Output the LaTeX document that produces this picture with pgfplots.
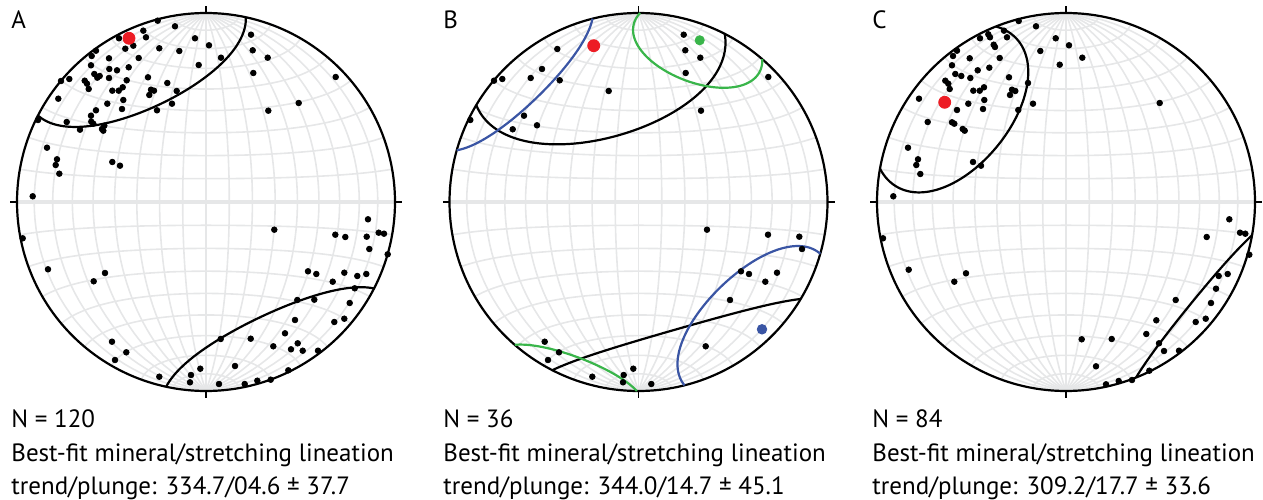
\documentclass[border=0pt]{standalone}
\usepackage{pgfplots}
\pgfplotsset{compat=1.18}
\usepackage{fontspec}
\setmainfont{PT Sans}
\definecolor{netgray}{HTML}{E6E7E8}
\definecolor{mred}{HTML}{ED1C24}
\definecolor{mgreen}{HTML}{39B54A}
\definecolor{mblue}{HTML}{3A55A4}
\def\R{189}
% equal-area (Schmidt) net, lower hemisphere, centre (#1,#2) in pixel units
\newcommand{\drawnet}[2]{%
  \pgfplotsinvokeforeach{10,20,...,170}{%
    \addplot[netgray, line width=0.8pt, domain=0:180, samples=61]
      ({#1+\R*sin(x)*cos(##1)/sqrt(1+sin(x)*sin(##1))},{#2-\R*cos(x)/sqrt(1+sin(x)*sin(##1))});
    \addplot[netgray, line width=0.8pt, domain=0:180, samples=61]
      ({#1+\R*sin(##1)*cos(x)/sqrt(1+sin(##1)*sin(x))},{#2-\R*cos(##1)/sqrt(1+sin(##1)*sin(x))});
  }%
  \addplot[netgray, line width=2pt, domain=-1:1, samples=2] ({#1+\R*x},{#2});
  \addplot[black, line width=1.1pt, domain=0:360, samples=241] ({#1+\R*cos(x)},{#2+\R*sin(x)});
  \addplot[black, line width=0.8pt, domain=0:1, samples=2] ({#1},{#2-\R-7*x});
  \addplot[black, line width=0.8pt, domain=0:1, samples=2] ({#1},{#2+\R+7*x});
  \addplot[black, line width=0.8pt, domain=0:1, samples=2] ({#1-\R-7*x},{#2});
  \addplot[black, line width=0.8pt, domain=0:1, samples=2] ({#1+\R+7*x},{#2});
}
% cone (small circle) of half-angle #5 about trend #3 / plunge #4, centre (#1,#2)
\newcommand{\cone}[6]{%
  \pgfmathsetmacro{\kk}{cos(#5)*sin(#4)/(sin(#5)*cos(#4))}%
  \pgfmathsetmacro{\tz}{acos(\kk)}%
  \pgfmathsetmacro{\tzb}{360-\tz}%
  \pgfmathsetmacro{\tzn}{-\tz}%
  \addplot[#6, line width=1.1pt, domain=\tz:\tzb, samples=150]
   ({#1+\R*(cos(#5)*cos(#4)*sin(#3)+sin(#5)*(cos(x)*sin(#4)*sin(#3)+sin(x)*cos(#3)))/sqrt(1+cos(#5)*sin(#4)-sin(#5)*cos(x)*cos(#4))},
    {#2-\R*(cos(#5)*cos(#4)*cos(#3)+sin(#5)*(cos(x)*sin(#4)*cos(#3)-sin(x)*sin(#3)))/sqrt(1+cos(#5)*sin(#4)-sin(#5)*cos(x)*cos(#4))});
  \addplot[#6, line width=1.1pt, domain=\tzn:\tz, samples=150]
   ({#1-\R*(cos(#5)*cos(#4)*sin(#3)+sin(#5)*(cos(x)*sin(#4)*sin(#3)+sin(x)*cos(#3)))/sqrt(1-cos(#5)*sin(#4)+sin(#5)*cos(x)*cos(#4))},
    {#2+\R*(cos(#5)*cos(#4)*cos(#3)+sin(#5)*(cos(x)*sin(#4)*cos(#3)-sin(x)*sin(#3)))/sqrt(1-cos(#5)*sin(#4)+sin(#5)*cos(x)*cos(#4))});
}
\tikzset{lab/.style={anchor=base west, font=\fontsize{12.5pt}{15pt}\selectfont, inner sep=0pt},
         txt/.style={anchor=base west, font=\fontsize{12.5pt}{15pt}\selectfont, inner sep=0pt}}
\begin{document}
\begin{tikzpicture}
\path[use as bounding box] (0,0) rectangle (631.5pt,249.5pt);
\begin{axis}[at={(0,0)}, anchor=south west, scale only axis,
  width=631.5pt, height=249.5pt, xmin=0, xmax=1263, ymin=0, ymax=499,
  y dir=reverse, hide axis, clip=false]
% ---------------- A ----------------
\drawnet{206}{202}
\cone{206}{202}{334.7}{4.6}{37.7}{black}
\addplot[only marks, mark=*, mark size=1.4pt, black] coordinates {
(157.7,20.7) (175,26.3) (143.3,30.7) (146,37.3) (119,38.3) (133.3,45.7) (125.3,48.7)
(195,38.3) (209,45.3) (159.3,48.3) (179.3,51) (96,50.7) (91.7,56) (138.7,58) (109,58.3)
(198.7,65) (91,65.3) (128.7,67.3) (109.3,69) (117,70.3) (94.3,74) (99.7,76) (97.3,77.7)
(109,78) (148,77.3) (69.3,79) (61,81) (84.7,80.7) (126.7,80.3) (87,83.7) (167.3,83)
(122.7,87.3) (88.7,89) (112.3,90.7) (118.7,90.7) (151,89.7) (154,90.7) (176.7,91)
(149.3,95) (58.3,98.7) (123.3,100) (107.3,103.7) (172,103.7) (96,110.3) (122,109)
(157,110.3) (91,115.7) (38,120) (66.7,122) (91.3,121.7) (93.3,123.7) (104.3,125.7)
(102,129) (80,129.7) (103.3,130.7) (47,147.7) (57,159.3) (55.7,165) (59.3,173.7)
(112.3,162) (120,165.7) (32.7,196.3)
(251,34.7) (252.7,50.3) (267.7,57.7) (221,57.7) (253.3,73) (335.7,77) (298.7,103) (268.3,110.7)
(22.7,238.3) (48,269.3) (105,273) (93.7,281.3) (112,341.7) (126.3,352.3) (115,360)
(159.3,376.7) (200.3,368.7) (191,375) (190,382.3)
(368,219.3) (274.3,229.7) (335.3,234.7) (345.3,237) (366.7,236.7) (378.7,232.7) (384,233.7)
(369.3,249) (387.7,254.3) (308,271.3) (316.3,274) (344.3,272.7) (357.3,276) (366.3,274)
(332.7,281.7) (354.7,288.3) (297.3,300) (314.3,299.7) (349.7,303) (295,320) (334.3,322)
(344.3,318.7) (220.7,339) (250.7,338.7) (285,333.3) (297.7,343.3) (273.3,346.3) (291,349.3)
(302.7,350.7) (318,350.7) (235,366) (288.3,370.3) (270.7,379.7) (257.3,380.7) (244.7,384) (219,384)
};
\addplot[only marks, mark=*, mark size=3pt, mred] coordinates {(129,38.3)};
% ---------------- B ----------------
\drawnet{638.5}{202}
\cone{638.5}{202}{344.0}{14.7}{45.1}{black}
\cone{638.5}{202}{20.7}{9.4}{22.2}{mgreen}
\cone{638.5}{202}{135.9}{6.8}{30.7}{mblue}
\addplot[only marks, mark=*, mark size=1.4pt, black] coordinates {
(557.3,49) (542,69) (530.7,78) (559.7,80.3) (494,80.7) (502.3,79) (608.7,91) (524,115.7)
(537,125.3) (512.7,129.3) (470.3,120)
(683.7,34.7) (685.3,50.3) (700.3,57.7) (685.7,73) (768.3,77) (701,110.7)
(544.7,341.7) (559,352.3) (548,360) (592.3,376.7) (633.3,368.7) (623.7,375) (623,382.3)
(707,229.7) (768,234.7) (799.3,236.7) (802,249) (741,271.3) (749,274) (777,272.7)
(765.3,281.7) (730,300) (705.7,346.3) (651.3,384)
};
\addplot[only marks, mark=*, mark size=3pt, mred] coordinates {(593.7,45.7)};
\addplot[only marks, mark=*, mark size=2.3pt, mgreen] coordinates {(699.7,40.3)};
\addplot[only marks, mark=*, mark size=2.4pt, mblue] coordinates {(762,329.3)};
% ---------------- C ----------------
\drawnet{1066}{202}
\cone{1066}{202}{309.2}{17.7}{33.6}{black}
\addplot[only marks, mark=*, mark size=1.4pt, black] coordinates {
(1018.7,21) (1036,26.3) (1004,30.7) (988.3,34.3) (990,37.3) (980,38.3) (1007,37.3)
(1055.7,38.3) (1069,45.3) (993.7,44.7) (995,47) (957,50.7) (1040.3,51) (953,56)
(969.7,58.3) (999.7,58) (1059.7,64.7) (952,65.3) (989.3,67.7) (977.7,70.3) (955.3,74)
(961.3,76) (970.3,78) (1009,77.3) (945.3,80.7) (948.3,83.7) (1028,83) (949.7,89)
(984,87.3) (973.3,90.7) (979.7,90.7) (1012,89.7) (1015.3,91) (1010,95) (919,98.7)
(984.3,100) (968.3,103.7) (1033,103.7) (957,110) (983,109) (1018.3,110) (927.7,122)
(952,122.3) (954.3,123.7) (962.7,129) (964.7,130.7) (908,147.7) (918,159.3) (916.3,165)
(920.3,174) (973,162) (981,165.7) (893.3,196.3)
(1082.3,57.7) (1159.7,103)
(883,238.3) (908.7,269.7) (966,273.3) (954.3,281.7)
(1229.3,219.3) (1206.7,237) (1240,232.7) (1245.3,233.7) (1249.3,254.7) (1218.7,276)
(1227.7,274) (1216,288.7) (1175.7,300) (1211,303) (1156.3,320.3) (1195.7,322)
(1205.7,318.7) (1146.3,334) (1081.7,339.3) (1111.7,339) (1159,343.3) (1164,351)
(1179,350.7) (1096,366.3) (1149.3,370.7) (1132,380) (1118.7,381) (1106,384.3)
};
\addplot[only marks, mark=*, mark size=3pt, mred] coordinates {(944.7,102.3)};
% ---------------- text ----------------
\node[lab] at (axis cs:11,29) {A};
\node[lab] at (axis cs:443,29) {B};
\node[lab] at (axis cs:872,29) {C};
\node[txt] at (axis cs:11,427) {N = 120};
\node[txt] at (axis cs:11,461) {Best-fit mineral/stretching lineation};
\node[txt] at (axis cs:11,494) {trend/plunge: 334.7/04.6 ± 37.7};
\node[txt] at (axis cs:443,427) {N = 36};
\node[txt] at (axis cs:443,461) {Best-fit mineral/stretching lineation};
\node[txt] at (axis cs:443,494) {trend/plunge: 344.0/14.7 ± 45.1};
\node[txt] at (axis cs:872,427) {N = 84};
\node[txt] at (axis cs:872,461) {Best-fit mineral/stretching lineation};
\node[txt] at (axis cs:872,494) {trend/plunge: 309.2/17.7 ± 33.6};
\end{axis}
\end{tikzpicture}
\end{document}
